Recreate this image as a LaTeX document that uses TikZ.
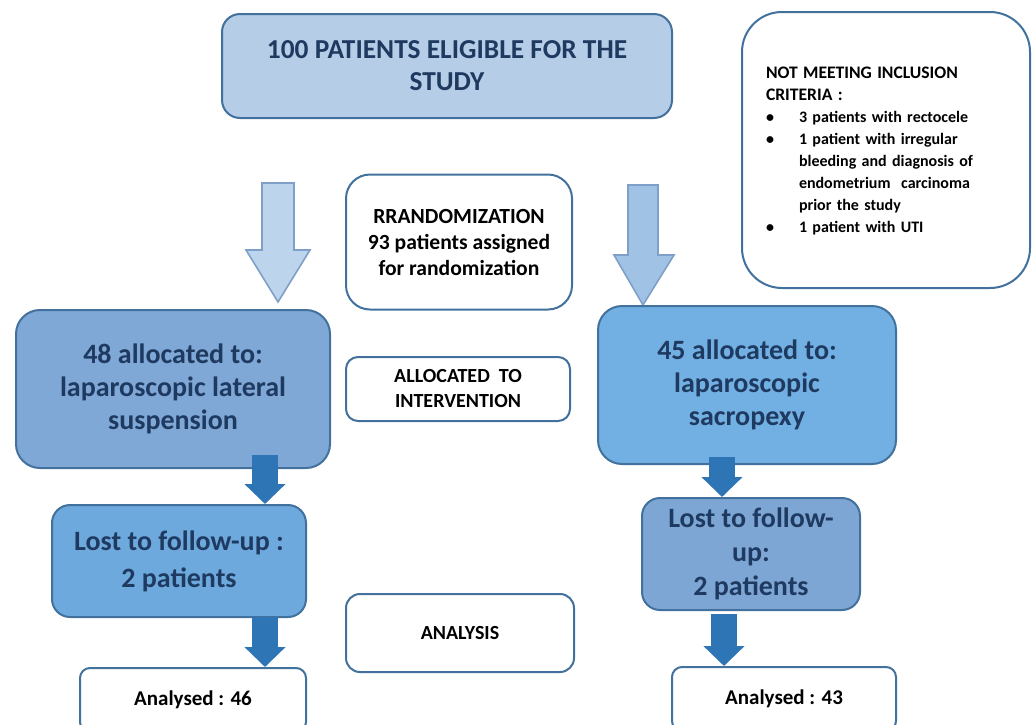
\documentclass[tikz,border=0pt]{standalone}
\usepackage{fontspec}
\setmainfont{Carlito}
\usetikzlibrary{arrows.meta}
\definecolor{bord}{HTML}{41719C}
\definecolor{topfill}{HTML}{B5CDE6}
\definecolor{lallocfill}{HTML}{7FA8D6}
\definecolor{rallocfill}{HTML}{72B0E3}
\definecolor{llostfill}{HTML}{6EA9DE}
\definecolor{rlostfill}{HTML}{7EA6D5}
\definecolor{navytext}{HTML}{1F3A60}
\definecolor{lbigfill}{HTML}{BCD4EC}
\definecolor{rbigfill}{HTML}{A0C2E4}
\definecolor{bigbord}{HTML}{7F9FC8}
\definecolor{darr}{HTML}{2E75B6}
\tikzset{
  box/.style={draw=bord, line width=1pt, align=center, inner sep=0pt, font=\bfseries},
  bluebox/.style={box, text=navytext, font=\fontsize{14}{16.5}\selectfont\bfseries},
  whitebox/.style={box, fill=white, text=black},
  bigarrow/.style={draw=bigbord, line width=0.8pt, line join=miter},
  darrow/.style={draw=darr, line width=13pt, -{Triangle[width=20pt,length=10pt]}}
}
\newcommand{\bitem}{\par\hangindent=16.5pt\hangafter=0\noindent\llap{\makebox[16.5pt][l]{\textbullet}}}
\newcommand{\brk}{\hfill\break}
\begin{document}
\begin{tikzpicture}[x=0.5pt,y=-0.5pt]
\useasboundingbox (0,0) rectangle (1033,724);
\clip (0,0) rectangle (1033,724);

% top box
\node[bluebox, fill=topfill, rounded corners=9pt, minimum width=225pt, minimum height=52pt,
      font=\fontsize{13.7}{16}\selectfont\bfseries] (top) at (447,66)
  {100 PATIENTS ELIGIBLE FOR THE\\STUDY};

% exclusion box
\node[whitebox, rounded corners=20pt, minimum width=144pt, minimum height=138pt] (excl) at (886,150) {};
\node[text width=118pt, align=left, inner sep=0pt, font=\fontsize{8}{11}\selectfont\bfseries] (excltext) at (884,151)
 {{\fontsize{8.8}{11}\selectfont NOT MEETING INCLUSION\\CRITERIA :}
  \bitem 3 patients with rectocele
  \bitem 1 patient with irregular\brk bleeding and diagnosis of\brk endometrium\ \ carcinoma\brk prior the study
  \bitem 1 patient with UTI\par};

% big hollow arrows
\draw[bigarrow, fill=lbigfill] (262,183) -- (294,183) -- (294,250) -- (310,250) -- (278,302) -- (246,250) -- (262,250) -- cycle;
\draw[bigarrow, fill=rbigfill] (628,185) -- (658,185) -- (658,255) -- (674,255) -- (643,305) -- (614,255) -- (628,255) -- cycle;

% randomization
\node[whitebox, rounded corners=12pt, minimum width=113pt, minimum height=67.5pt,
      font=\fontsize{10.8}{13}\selectfont\bfseries] (rand) at (459,242)
  {RRANDOMIZATION\\93 patients assigned\\for randomization};

% allocation boxes
\node[bluebox, fill=lallocfill, rounded corners=12pt, minimum width=157pt, minimum height=79pt] (lalloc) at (173,389)
  {48 allocated to:\\laparoscopic lateral\\suspension};
\node[bluebox, fill=rallocfill, rounded corners=12pt, minimum width=149pt, minimum height=79pt] (ralloc) at (747,385)
  {45 allocated to:\\laparoscopic\\sacropexy};
\node[whitebox, rounded corners=6pt, minimum width=112pt, minimum height=32pt,
      font=\fontsize{10}{12.5}\selectfont\bfseries] (allocmid) at (458,389)
  {ALLOCATED\ \ TO\\INTERVENTION};

% lost to follow-up
\node[bluebox, fill=llostfill, rounded corners=9pt, minimum width=127pt, minimum height=56pt,
      font=\fontsize{14}{18.5}\selectfont\bfseries] (llost) at (179,561)
  {Lost to follow-up :\\2 patients};
\node[bluebox, fill=rlostfill, rounded corners=9pt, minimum width=109pt, minimum height=56pt,
      font=\fontsize{14}{17}\selectfont\bfseries] (rlost) at (751,554)
  {Lost to follow-\\up:\\2 patients};

% analysis
\node[whitebox, rounded corners=7pt, minimum width=114pt, minimum height=39pt,
      font=\fontsize{10}{12}\selectfont\bfseries] (analysis) at (460,633) {ANALYSIS};
\node[whitebox, rounded corners=5pt, minimum width=113pt, minimum height=32pt,
      font=\fontsize{10.5}{12}\selectfont\bfseries] (an46) at (193,700) {Analysed : 46};
\node[whitebox, rounded corners=5pt, minimum width=112pt, minimum height=32pt,
      font=\fontsize{10.5}{12}\selectfont\bfseries] (an43) at (784,699) {Analysed : 43};

% dark arrows
\coordinate (la1) at (265,455);
\coordinate (la2) at (265,617);
\coordinate (ra1) at (722,457);
\coordinate (ra2) at (724,614);
\draw[darrow] (la1) -- (llost.north -| la1);
\draw[darrow] (la2) -- (an46.north -| la2);
\draw[darrow] (ra1) -- (rlost.north -| ra1);
\draw[darrow] (ra2) -- (an43.north -| ra2);
\end{tikzpicture}
\end{document}
